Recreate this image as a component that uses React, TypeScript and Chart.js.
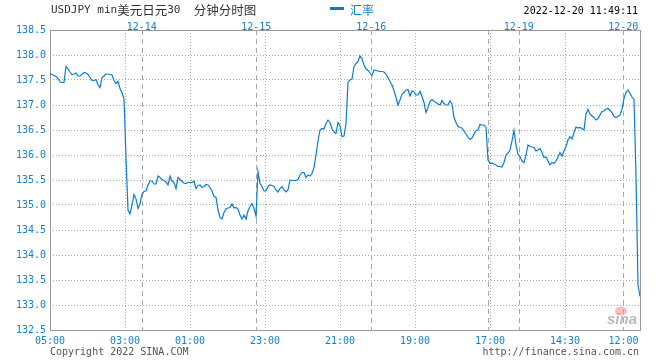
import React, { useEffect, useRef } from "react";
import { Chart, registerables } from "chart.js";

Chart.register(...registerables);

// USD/JPY rate, one sample per time step (296 samples)
const rates: number[] = [
  137.63, 137.61, 137.59, 137.57, 137.53, 137.46, 137.45, 137.45, 137.77, 137.72,
  137.66, 137.61, 137.62, 137.64, 137.58, 137.58, 137.61, 137.65, 137.64, 137.61,
  137.55, 137.49, 137.49, 137.51, 137.40, 137.35, 137.55, 137.58, 137.62, 137.62,
  137.61, 137.60, 137.49, 137.43, 137.47, 137.33, 137.25, 137.12, 135.95, 134.90,
  134.82, 135.00, 135.21, 135.12, 134.93, 135.03, 135.21, 135.27, 135.28, 135.40,
  135.48, 135.48, 135.42, 135.42, 135.58, 135.55, 135.51, 135.49, 135.46, 135.40,
  135.58, 135.48, 135.45, 135.33, 135.55, 135.51, 135.47, 135.44, 135.43, 135.45,
  135.45, 135.45, 135.48, 135.33, 135.39, 135.40, 135.35, 135.37, 135.41, 135.40,
  135.35, 135.28, 135.17, 135.15, 134.90, 134.75, 134.72, 134.85, 134.92, 134.94,
  134.95, 135.02, 134.94, 134.95, 134.92, 134.80, 134.72, 134.80, 134.72, 134.88,
  134.97, 135.03, 134.93, 134.78, 135.67, 135.43, 135.37, 135.28, 135.28, 135.37,
  135.40, 135.39, 135.37, 135.30, 135.26, 135.33, 135.37, 135.30, 135.26, 135.30,
  135.50, 135.49, 135.49, 135.49, 135.51, 135.60, 135.65, 135.65, 135.55, 135.60,
  135.58, 135.63, 135.75, 136.00, 136.28, 136.50, 136.53, 136.52, 136.63, 136.70,
  136.65, 136.52, 136.46, 136.43, 136.65, 136.58, 136.37, 136.38, 136.63, 137.45,
  137.50, 137.52, 137.77, 137.83, 137.87, 137.98, 137.93, 137.80, 137.72, 137.69,
  137.64, 137.59, 137.70, 137.69, 137.68, 137.67, 137.67, 137.66, 137.62, 137.55,
  137.47, 137.40, 137.29, 137.15, 137.00, 137.10, 137.22, 137.25, 137.30, 137.31,
  137.18, 137.28, 137.26, 137.20, 137.20, 137.27, 137.17, 137.05, 136.85, 136.95,
  137.07, 137.11, 137.07, 137.05, 137.02, 137.00, 137.09, 137.03, 137.00, 137.00,
  137.08, 137.02, 136.75, 136.65, 136.57, 136.55, 136.54, 136.48, 136.42, 136.36,
  136.31, 136.34, 136.42, 136.49, 136.50, 136.61, 136.60, 136.60, 136.55, 135.90,
  135.83, 135.84, 135.82, 135.80, 135.77, 135.77, 135.76, 135.85, 136.00, 136.04,
  136.10, 136.28, 136.49, 136.20, 136.01, 135.97, 135.88, 135.85, 136.00, 136.20,
  136.17, 136.16, 136.15, 136.08, 136.10, 136.13, 136.05, 135.95, 135.96, 135.88,
  135.80, 135.85, 135.83, 135.88, 135.96, 136.05, 135.98, 136.08, 136.17, 136.30,
  136.37, 136.32, 136.45, 136.56, 136.54, 136.55, 136.53, 136.50, 136.82, 136.91,
  136.82, 136.78, 136.75, 136.70, 136.73, 136.80, 136.87, 136.88, 136.92, 136.93,
  136.89, 136.85, 136.77, 136.75, 136.77, 136.80, 136.92, 137.13, 137.25, 137.30,
  137.23, 137.16, 137.11, 135.60, 133.40, 133.17,
];

// bottom time labels and their sample index
const timeLabels: string[] = ["05:00", "03:00", "01:00", "23:00", "21:00", "19:00", "17:00", "14:30", "12:00"];
const timeIdx: number[] = [0, 37.5, 70, 107.5, 145, 182.5, 220, 257.5, 286.75];

// day boundaries (dashed lines) and labelled days
const dayBoundIdx: number[] = [45.85, 103.15, 160.65, 218.85, 234.35, 286.65];
const dayLabels: string[] = ["12-14", "12-15", "12-16", "12-19", "12-20"];
const dayLabelIdx: number[] = [45.85, 103.15, 160.65, 234.35, 286.65];

const yMin = 132.5;
const yMax = 138.5;
const yStep = 0.5;

const titleRuns: [string, boolean][] = [
  ["USDJPY min", false],
  ["美元日元", true],
  ["30  ", false],
  ["分钟分时图", true],
];
const seriesName = "汇率";
const stampText = "2022-12-20 11:49:11";
const copyText = "Copyright 2022 SINA.COM";
const urlText = "http://finance.sina.com.cn";

const BLUE = "#1480d0";
const LINE = "#0a7cd0";
const MONO = "'DejaVu Sans Mono', monospace";
const CJK = "'Noto Sans CJK SC', sans-serif";

const overlay = {
  id: "overlay",
  beforeDatasetsDraw(chart: any) {
    const { ctx, chartArea: a, scales } = chart;
    const x = scales.x;
    ctx.save();
    // watermark
    ctx.fillStyle = "rgba(240,110,110,0.45)";
    ctx.beginPath();
    ctx.ellipse(621, 311, 6, 4.5, 0, 0, Math.PI * 2);
    ctx.fill();
    ctx.fillStyle = "rgba(130,130,130,0.55)";
    ctx.font = "italic bold 15px 'Liberation Sans', sans-serif";
    ctx.textBaseline = "alphabetic";
    ctx.textAlign = "left";
    ctx.fillText("sina", 607, 324);

    // day boundary dashed lines
    ctx.strokeStyle = "#a8a8a8";
    ctx.lineWidth = 1;
    ctx.setLineDash([5, 4]);
    dayBoundIdx.forEach((v) => {
      const px = Math.round(x.getPixelForValue(v)) + 0.5;
      ctx.beginPath();
      ctx.moveTo(px, a.top);
      ctx.lineTo(px, a.bottom);
      ctx.stroke();
    });
    ctx.setLineDash([]);
    ctx.strokeStyle = "#999";
    ctx.strokeRect(
      Math.round(a.left) + 0.5,
      Math.round(a.top) + 0.5,
      Math.round(a.right - a.left),
      Math.round(a.bottom - a.top)
    );
    ctx.restore();
  },
  afterDraw(chart: any) {
    const { ctx } = chart;
    ctx.save();
    ctx.textBaseline = "middle";
    ctx.textAlign = "left";
    // title
    let tx = 51;
    ctx.fillStyle = "#333";
    titleRuns.forEach(([t, cjk]) => {
      ctx.font = cjk ? `12.5px ${CJK}` : `11px ${MONO}`;
      ctx.fillText(t, tx, cjk ? 10 : 10.5);
      tx += ctx.measureText(t).width;
    });
    // legend
    ctx.fillStyle = LINE;
    ctx.fillRect(330, 7, 14, 3);
    ctx.fillStyle = BLUE;
    ctx.font = `12px ${CJK}`;
    ctx.fillText(seriesName, 350, 10);
    // timestamp
    ctx.fillStyle = "#000";
    ctx.font = `10px ${MONO}`;
    ctx.textAlign = "right";
    ctx.fillText(stampText, 638, 11);
    // footer
    ctx.fillStyle = "#555";
    ctx.textAlign = "left";
    ctx.fillText(copyText, 50, 352.5);
    ctx.textAlign = "right";
    ctx.fillText(urlText, 639, 352.5);
    ctx.restore();
  },
};

export default function App() {
  const ref = useRef<HTMLCanvasElement | null>(null);
  useEffect(() => {
    if (!ref.current) return;
    const last = timeIdx.length - 1;
    const chart = new Chart(ref.current, {
      type: "line",
      data: {
        datasets: [
          {
            label: seriesName,
            data: rates.map((y, i) => ({ x: i, y })),
            borderColor: LINE,
            borderWidth: 1.2,
            pointRadius: 0,
            tension: 0,
            fill: false,
          },
        ],
      },
      options: {
        animation: false,
        responsive: false,
        devicePixelRatio: 1,
        layout: { padding: { left: 0, right: 20, top: 0, bottom: 0 } },
        plugins: { legend: { display: false }, tooltip: { enabled: false }, title: { display: false } },
        scales: {
          x: {
            type: "linear",
            position: "bottom",
            min: 0,
            max: rates.length - 1,
            afterBuildTicks: (s: any) => {
              s.ticks = timeIdx.map((v) => ({ value: v }));
            },
            afterFit: (s: any) => {
              s.height = 30;
            },
            ticks: {
              autoSkip: false,
              maxRotation: 0,
              padding: 5,
              color: BLUE,
              font: { family: MONO, size: 10 },
              callback: (_v: any, i: number) => timeLabels[i],
            },
            grid: {
              drawTicks: false,
              lineWidth: 1,
              color: (c: any) => (c.index === 0 || c.index === last ? "rgba(0,0,0,0)" : "#aaa"),
            },
            border: { display: false, dash: [1, 2] },
          },
          x2: {
            type: "linear",
            position: "top",
            min: 0,
            max: rates.length - 1,
            afterBuildTicks: (s: any) => {
              s.ticks = dayLabelIdx.map((v) => ({ value: v }));
            },
            afterFit: (s: any) => {
              s.height = 30;
            },
            ticks: {
              autoSkip: false,
              maxRotation: 0,
              padding: -3,
              color: BLUE,
              font: { family: MONO, size: 10 },
              callback: (_v: any, i: number) => dayLabels[i],
            },
            grid: { display: false, drawTicks: false },
            border: { display: false },
          },
          y: {
            type: "linear",
            position: "left",
            min: yMin,
            max: yMax,
            afterFit: (s: any) => {
              s.width = 50;
            },
            ticks: {
              stepSize: yStep,
              padding: 4,
              color: BLUE,
              font: { family: MONO, size: 10 },
              callback: (v: any) => Number(v).toFixed(1),
            },
            grid: {
              drawTicks: false,
              lineWidth: 1,
              color: (c: any) =>
                c.tick && (c.tick.value === yMin || c.tick.value === yMax) ? "rgba(0,0,0,0)" : "#aaa",
            },
            border: { display: false, dash: [1, 2] },
          },
        },
      },
      plugins: [overlay],
    } as any);
    return () => chart.destroy();
  }, []);
  return (
    <div style={{ position: "absolute", left: 0, top: 0, width: 660, height: 360, background: "#fff" }}>
      <canvas ref={ref} width={660} height={360} style={{ display: "block", width: 660, height: 360 }} />
    </div>
  );
}
